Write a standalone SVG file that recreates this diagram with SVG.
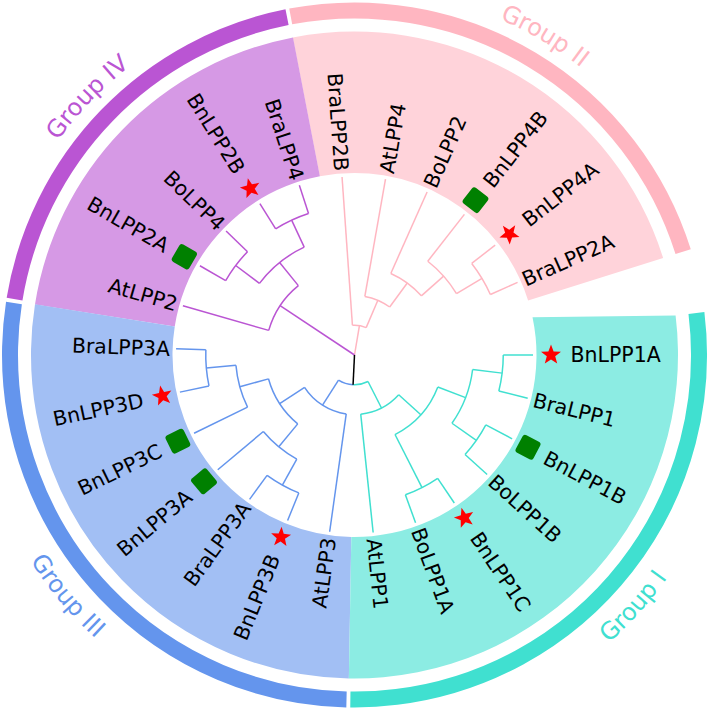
<svg xmlns="http://www.w3.org/2000/svg" width="709" height="710" viewBox="0 0 709 710">
<style>
.br{fill:none;stroke-width:1.5}
.pk{stroke:#FFB6C1}.pu{stroke:#BA55D3}.bl{stroke:#6495ED}.cy{stroke:#40E0D0}
.sec{fill:none;stroke-width:141.5}
.ring{fill:none;stroke-width:16}
.tip{font-family:"DejaVu Sans",sans-serif;font-size:20.5px;fill:#000}
.tip.e{text-anchor:end}
.grp{font-family:"DejaVu Sans",sans-serif;font-size:24px}
</style>
<defs>
<path id="star" d="M0,-10.5 L2.6,-3.5 L10,-3.25 L4.2,1.35 L6.2,8.5 L0,4.4 L-6.2,8.5 L-4.2,1.35 L-10,-3.25 L-2.6,-3.5 Z" fill="#FF0000"/>
<rect id="sq" x="-10" y="-10" width="20" height="20" rx="3" fill="#008000"/>
<path id="gp2" d="M175.94,35.51 A366,366 0 0 1 720.46,360.11"/>
<path id="gp4" d="M2.68,455.88 A366,366 0 0 1 443.04,-0.13"/>
<path id="gp3" d="M-6.34,223.66 A384,384 0 0 0 421.18,733.17"/>
<path id="gp1" d="M274.66,730.61 A384,384 0 0 0 719.71,236.34"/>
</defs>
<g id="sectors">
<circle class="sec" cx="354.5" cy="355" r="252.75" stroke="#FFD3DA" stroke-dasharray="368.35 3000" transform="rotate(259 354.5 355)"/>
<circle class="sec" cx="354.5" cy="355" r="252.75" stroke="#D699E5" stroke-dasharray="308.79 3000" transform="rotate(189 354.5 355)"/>
<circle class="sec" cx="354.5" cy="355" r="252.75" stroke="#A2BFF4" stroke-dasharray="432.31 3000" transform="rotate(91 354.5 355)"/>
<path fill="#8CECE3" d="M532.52,317.16 L675.59,315.58 A323.5,323.5 0 0 1 348.85,678.45 L351.32,536.97 A182,182 0 0 0 532.52,317.16 Z"/>
</g>
<g id="rings">
<circle class="ring" cx="354.5" cy="355" r="344.5" stroke="#BA55D3" stroke-dasharray="416.92 3000" transform="rotate(189.33 354.5 355)"/>
<circle class="ring" cx="354.5" cy="355" r="344.5" stroke="#FFB6C1" stroke-dasharray="500.07 3000" transform="rotate(259.33 354.5 355)"/>
<circle class="ring" cx="354.5" cy="355" r="344.5" stroke="#6495ED" stroke-dasharray="585.27 3000" transform="rotate(91.33 354.5 355)"/>
<circle class="ring" cx="354.5" cy="355" r="344.5" stroke="#40E0D0" stroke-dasharray="587.26 3000" transform="rotate(-7 354.5 355)"/>
</g>
<g id="group-labels">
<text class="grp" fill="#FFB6C1"><textPath href="#gp2" startOffset="50%" text-anchor="middle">Group II</textPath></text>
<text class="grp" fill="#BA55D3"><textPath href="#gp4" startOffset="50%" text-anchor="middle">Group IV</textPath></text>
<text class="grp" fill="#6495ED"><textPath href="#gp3" startOffset="50%" text-anchor="middle">Group III</textPath></text>
<text class="grp" fill="#40E0D0"><textPath href="#gp1" startOffset="50%" text-anchor="middle">Group I</textPath></text>
</g>
<g id="connectors">
<g class="br pk">
<line x1="354.5" y1="355" x2="384.25" y2="355" transform="rotate(279.56 354.5 355)"/>
<line x1="384.25" y1="355" x2="533" y2="355" transform="rotate(266 354.5 355)"/>
<line x1="384.25" y1="355" x2="414" y2="355" transform="rotate(293.125 354.5 355)"/>
<line x1="414" y1="355" x2="533" y2="355" transform="rotate(280 354.5 355)"/>
<line x1="414" y1="355" x2="443.75" y2="355" transform="rotate(306.25 354.5 355)"/>
<line x1="443.75" y1="355" x2="533" y2="355" transform="rotate(294 354.5 355)"/>
<line x1="443.75" y1="355" x2="473.5" y2="355" transform="rotate(318.5 354.5 355)"/>
<line x1="473.5" y1="355" x2="533" y2="355" transform="rotate(308 354.5 355)"/>
<line x1="473.5" y1="355" x2="503.25" y2="355" transform="rotate(329 354.5 355)"/>
<line x1="503.25" y1="355" x2="533" y2="355" transform="rotate(322 354.5 355)"/>
<line x1="503.25" y1="355" x2="533" y2="355" transform="rotate(336 354.5 355)"/>
<circle cx="354.5" cy="355" r="29.75" stroke-dasharray="14.084 3000" transform="rotate(266 354.5 355)"/>
<circle cx="354.5" cy="355" r="59.5" stroke-dasharray="27.26 3000" transform="rotate(280 354.5 355)"/>
<circle cx="354.5" cy="355" r="89.25" stroke-dasharray="38.164 3000" transform="rotate(294 354.5 355)"/>
<circle cx="354.5" cy="355" r="119" stroke-dasharray="43.616 3000" transform="rotate(308 354.5 355)"/>
<circle cx="354.5" cy="355" r="148.75" stroke-dasharray="36.347 3000" transform="rotate(322 354.5 355)"/>
</g>
<g class="br pu">
<line x1="354.5" y1="355" x2="443.75" y2="355" transform="rotate(213.5 354.5 355)"/>
<line x1="443.75" y1="355" x2="533" y2="355" transform="rotate(196 354.5 355)"/>
<line x1="443.75" y1="355" x2="473.5" y2="355" transform="rotate(231 354.5 355)"/>
<line x1="473.5" y1="355" x2="503.25" y2="355" transform="rotate(217 354.5 355)"/>
<line x1="473.5" y1="355" x2="503.25" y2="355" transform="rotate(245 354.5 355)"/>
<line x1="503.25" y1="355" x2="533" y2="355" transform="rotate(210 354.5 355)"/>
<line x1="503.25" y1="355" x2="533" y2="355" transform="rotate(224 354.5 355)"/>
<line x1="503.25" y1="355" x2="533" y2="355" transform="rotate(238 354.5 355)"/>
<line x1="503.25" y1="355" x2="533" y2="355" transform="rotate(252 354.5 355)"/>
<circle cx="354.5" cy="355" r="89.25" stroke-dasharray="54.52 3000" transform="rotate(196 354.5 355)"/>
<circle cx="354.5" cy="355" r="119" stroke-dasharray="58.154 3000" transform="rotate(217 354.5 355)"/>
<circle cx="354.5" cy="355" r="148.75" stroke-dasharray="36.347 3000" transform="rotate(210 354.5 355)"/>
<circle cx="354.5" cy="355" r="148.75" stroke-dasharray="36.347 3000" transform="rotate(238 354.5 355)"/>
</g>
<g class="br bl">
<circle cx="354.5" cy="355" r="29.75" stroke-dasharray="15.447 3000" transform="rotate(92.75 354.5 355)"/>
<circle cx="354.5" cy="355" r="59.5" stroke-dasharray="50.885 3000" transform="rotate(98 354.5 355)"/>
<circle cx="354.5" cy="355" r="89.25" stroke-dasharray="54.52 3000" transform="rotate(129.5 354.5 355)"/>
<circle cx="354.5" cy="355" r="119" stroke-dasharray="43.616 3000" transform="rotate(119 354.5 355)"/>
<circle cx="354.5" cy="355" r="148.75" stroke-dasharray="36.347 3000" transform="rotate(112 354.5 355)"/>
<circle cx="354.5" cy="355" r="119" stroke-dasharray="43.616 3000" transform="rotate(154 354.5 355)"/>
<circle cx="354.5" cy="355" r="148.75" stroke-dasharray="36.347 3000" transform="rotate(168 354.5 355)"/>
<line x1="384.25" y1="355" x2="414" y2="355" transform="rotate(122.5 354.5 355)"/>
<line x1="414" y1="355" x2="533" y2="355" transform="rotate(98 354.5 355)"/>
<line x1="414" y1="355" x2="443.75" y2="355" transform="rotate(147 354.5 355)"/>
<line x1="443.75" y1="355" x2="473.5" y2="355" transform="rotate(129.5 354.5 355)"/>
<line x1="443.75" y1="355" x2="473.5" y2="355" transform="rotate(164.5 354.5 355)"/>
<line x1="473.5" y1="355" x2="533" y2="355" transform="rotate(140 354.5 355)"/>
<line x1="473.5" y1="355" x2="503.25" y2="355" transform="rotate(119 354.5 355)"/>
<line x1="503.25" y1="355" x2="533" y2="355" transform="rotate(112 354.5 355)"/>
<line x1="503.25" y1="355" x2="533" y2="355" transform="rotate(126 354.5 355)"/>
<line x1="473.5" y1="355" x2="533" y2="355" transform="rotate(154 354.5 355)"/>
<line x1="473.5" y1="355" x2="503.25" y2="355" transform="rotate(175 354.5 355)"/>
<line x1="503.25" y1="355" x2="533" y2="355" transform="rotate(168 354.5 355)"/>
<line x1="503.25" y1="355" x2="533" y2="355" transform="rotate(182 354.5 355)"/>
</g>
<g class="br cy">
<circle cx="354.5" cy="355" r="29.75" stroke-dasharray="15.447 3000" transform="rotate(63 354.5 355)"/>
<circle cx="354.5" cy="355" r="59.5" stroke-dasharray="43.616 3000" transform="rotate(42 354.5 355)"/>
<circle cx="354.5" cy="355" r="89.25" stroke-dasharray="65.424 3000" transform="rotate(21 354.5 355)"/>
<circle cx="354.5" cy="355" r="148.75" stroke-dasharray="36.347 3000" transform="rotate(56 354.5 355)"/>
<circle cx="354.5" cy="355" r="119" stroke-dasharray="58.154 3000" transform="rotate(7 354.5 355)"/>
<circle cx="354.5" cy="355" r="148.75" stroke-dasharray="36.347 3000" transform="rotate(28 354.5 355)"/>
<circle cx="354.5" cy="355" r="148.75" stroke-dasharray="36.347 3000" transform="rotate(0 354.5 355)"/>
<line x1="384.25" y1="355" x2="414" y2="355" transform="rotate(63 354.5 355)"/>
<line x1="414" y1="355" x2="533" y2="355" transform="rotate(84 354.5 355)"/>
<line x1="414" y1="355" x2="443.75" y2="355" transform="rotate(42 354.5 355)"/>
<line x1="443.75" y1="355" x2="503.25" y2="355" transform="rotate(63 354.5 355)"/>
<line x1="503.25" y1="355" x2="533" y2="355" transform="rotate(56 354.5 355)"/>
<line x1="503.25" y1="355" x2="533" y2="355" transform="rotate(70 354.5 355)"/>
<line x1="443.75" y1="355" x2="473.5" y2="355" transform="rotate(21 354.5 355)"/>
<line x1="473.5" y1="355" x2="503.25" y2="355" transform="rotate(35 354.5 355)"/>
<line x1="503.25" y1="355" x2="533" y2="355" transform="rotate(28 354.5 355)"/>
<line x1="503.25" y1="355" x2="533" y2="355" transform="rotate(42 354.5 355)"/>
<line x1="473.5" y1="355" x2="503.25" y2="355" transform="rotate(7 354.5 355)"/>
<line x1="503.25" y1="355" x2="533" y2="355" transform="rotate(0 354.5 355)"/>
<line x1="503.25" y1="355" x2="533" y2="355" transform="rotate(14 354.5 355)"/>
</g>
<line class="br" stroke="#000" x1="354.5" y1="355" x2="384.25" y2="355" transform="rotate(92.75 354.5 355)"/>
</g>
<g id="tip-BnLPP1A"><use href="#star" transform="rotate(0 354.5 355) translate(551 355)"/><text class="tip" x="570.5" y="355" dy="0.36em">BnLPP1A</text></g>
<g id="tip-BraLPP1"><text class="tip" x="539" y="355" dy="0.36em" transform="rotate(14 354.5 355)">BraLPP1</text></g>
<g id="tip-BnLPP1B"><use href="#sq" transform="rotate(28 354.5 355) translate(551 355)"/><text class="tip" x="570.5" y="355" dy="0.36em" transform="rotate(28 354.5 355)">BnLPP1B</text></g>
<g id="tip-BoLPP1B"><text class="tip" x="539" y="355" dy="0.36em" transform="rotate(42 354.5 355)">BoLPP1B</text></g>
<g id="tip-BnLPP1C"><use href="#star" transform="rotate(56 354.5 355) translate(551 355)"/><text class="tip" x="570.5" y="355" dy="0.36em" transform="rotate(56 354.5 355)">BnLPP1C</text></g>
<g id="tip-BoLPP1A"><text class="tip" x="539" y="355" dy="0.36em" transform="rotate(70 354.5 355)">BoLPP1A</text></g>
<g id="tip-AtLPP1"><text class="tip" x="539" y="355" dy="0.36em" transform="rotate(84 354.5 355)">AtLPP1</text></g>
<g id="tip-AtLPP3"><text class="tip e" x="170" y="355" dy="0.36em" transform="rotate(-82 354.5 355)">AtLPP3</text></g>
<g id="tip-BnLPP3B"><use href="#star" transform="rotate(-68 354.5 355) translate(158 355)"/><text class="tip e" x="138.5" y="355" dy="0.36em" transform="rotate(-68 354.5 355)">BnLPP3B</text></g>
<g id="tip-BraLPP3A-1"><text class="tip e" x="170" y="355" dy="0.36em" transform="rotate(-54 354.5 355)">BraLPP3A</text></g>
<g id="tip-BnLPP3A"><use href="#sq" transform="rotate(-40 354.5 355) translate(158 355)"/><text class="tip e" x="138.5" y="355" dy="0.36em" transform="rotate(-40 354.5 355)">BnLPP3A</text></g>
<g id="tip-BnLPP3C"><use href="#sq" transform="rotate(-26 354.5 355) translate(158 355)"/><text class="tip e" x="138.5" y="355" dy="0.36em" transform="rotate(-26 354.5 355)">BnLPP3C</text></g>
<g id="tip-BnLPP3D"><use href="#star" transform="rotate(-12 354.5 355) translate(158 355)"/><text class="tip e" x="138.5" y="355" dy="0.36em" transform="rotate(-12 354.5 355)">BnLPP3D</text></g>
<g id="tip-BraLPP3A-2"><text class="tip e" x="170" y="355" dy="0.36em" transform="rotate(2 354.5 355)">BraLPP3A</text></g>
<g id="tip-AtLPP2"><text class="tip e" x="170" y="355" dy="0.36em" transform="rotate(16 354.5 355)">AtLPP2</text></g>
<g id="tip-BnLPP2A"><use href="#sq" transform="rotate(30 354.5 355) translate(158 355)"/><text class="tip e" x="138.5" y="355" dy="0.36em" transform="rotate(30 354.5 355)">BnLPP2A</text></g>
<g id="tip-BoLPP4"><text class="tip e" x="170" y="355" dy="0.36em" transform="rotate(44 354.5 355)">BoLPP4</text></g>
<g id="tip-BnLPP2B"><use href="#star" transform="rotate(58 354.5 355) translate(158 355)"/><text class="tip e" x="138.5" y="355" dy="0.36em" transform="rotate(58 354.5 355)">BnLPP2B</text></g>
<g id="tip-BraLPP4"><text class="tip e" x="170" y="355" dy="0.36em" transform="rotate(72 354.5 355)">BraLPP4</text></g>
<g id="tip-BraLPP2B"><text class="tip e" x="170" y="355" dy="0.36em" transform="rotate(86 354.5 355)">BraLPP2B</text></g>
<g id="tip-AtLPP4"><text class="tip" x="539" y="355" dy="0.36em" transform="rotate(-80 354.5 355)">AtLPP4</text></g>
<g id="tip-BoLPP2"><text class="tip" x="539" y="355" dy="0.36em" transform="rotate(-66 354.5 355)">BoLPP2</text></g>
<g id="tip-BnLPP4B"><use href="#sq" transform="rotate(-52 354.5 355) translate(551 355)"/><text class="tip" x="570.5" y="355" dy="0.36em" transform="rotate(-52 354.5 355)">BnLPP4B</text></g>
<g id="tip-BnLPP4A"><use href="#star" transform="rotate(-38 354.5 355) translate(551 355)"/><text class="tip" x="570.5" y="355" dy="0.36em" transform="rotate(-38 354.5 355)">BnLPP4A</text></g>
<g id="tip-BraLPP2A"><text class="tip" x="539" y="355" dy="0.36em" transform="rotate(-24 354.5 355)">BraLPP2A</text></g>
</svg>
